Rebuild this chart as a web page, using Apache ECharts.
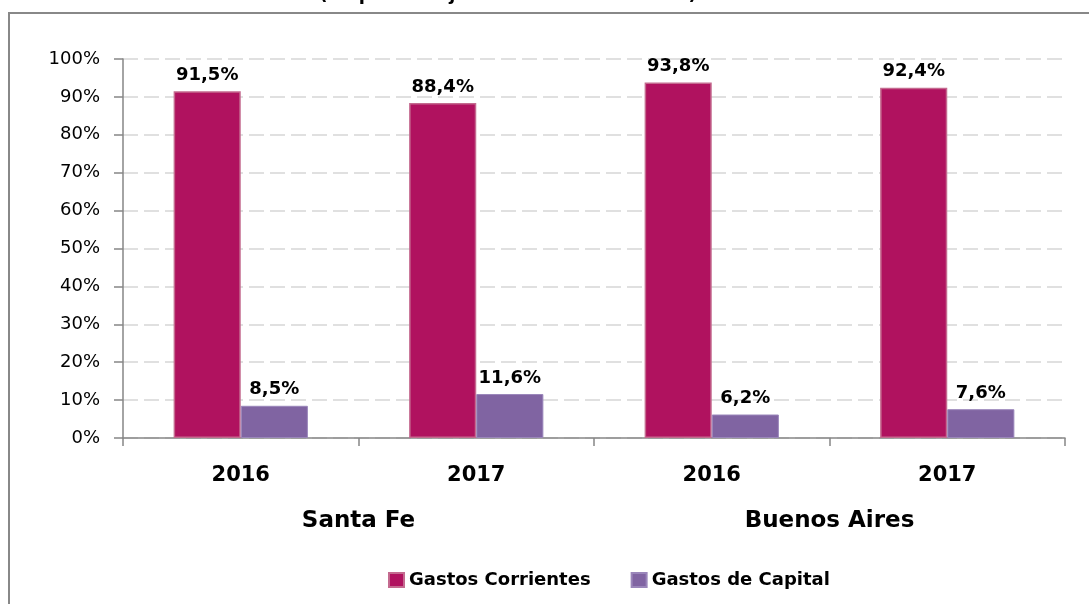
<!DOCTYPE html>
<html>
<head>
<meta charset="utf-8">
<script src="https://cdn.jsdelivr.net/npm/echarts@6/dist/echarts.min.js"></script>
<style>
html,body{margin:0;padding:0;background:#fff;}
#chart{width:1089px;height:604px;}
</style>
</head>
<body>
<div id="chart"></div>
<script>
var titleText = '(En porcentaje de los Gastos Totales)';
var years = ['2016', '2017', '2016', '2017'];
var provinces = ['Santa Fe', 'Buenos Aires'];
var seriesNames = ['Gastos Corrientes', 'Gastos de Capital'];
var corrientes = [91.5, 88.4, 93.8, 92.4];
var capital = [8.5, 11.6, 6.2, 7.6];
var yTicks = [0, 10, 20, 30, 40, 50, 60, 70, 80, 90, 100];

var FONT = 'DejaVu Sans';
var chart = echarts.init(document.getElementById('chart'));

function fmt(v) { return v.toFixed(1).replace('.', ',') + '%'; }

var labelStyle = {
  show: true, position: 'top', distance: 7,
  fontFamily: FONT, fontWeight: 'bold', fontSize: 18, color: '#000',
  formatter: function (p) { return fmt(p.value); }
};

chart.setOption({
  animation: false,
  backgroundColor: '#fff',
  graphic: [
    { type: 'rect', shape: { x: 9, y: 13, width: 1200, height: 700 },
      style: { fill: 'none', stroke: '#888', lineWidth: 2 }, z: -1 },
    { type: 'text', x: 508, y: 4,
      style: { text: titleText, fontFamily: FONT, fontWeight: 'bold', fontSize: 18,
               fill: '#000', textAlign: 'center', textVerticalAlign: 'bottom' } }
  ],
  legend: {
    data: seriesNames,
    left: 388, top: 571, padding: 0,
    itemWidth: 15, itemHeight: 14, itemGap: 40,
    icon: 'rect',
    textStyle: { fontFamily: FONT, fontWeight: 'bold', fontSize: 18, color: '#000' }
  },
  grid: { left: 123, right: 24, top: 59, bottom: 166, containLabel: false },
  xAxis: [
    {
      type: 'category', data: years, position: 'bottom',
      axisLine: { lineStyle: { color: '#868686', width: 1.5 } },
      axisTick: { show: true, length: 8, lineStyle: { color: '#868686', width: 1.5 } },
      axisLabel: { fontFamily: FONT, fontWeight: 'bold', fontSize: 21, color: '#000', margin: 27 }
    },
    {
      type: 'category', data: provinces, position: 'bottom', gridIndex: 0,
      axisLine: { show: false }, axisTick: { show: false },
      axisLabel: { fontFamily: FONT, fontWeight: 'bold', fontSize: 23, color: '#000', margin: 72 }
    }
  ],
  yAxis: {
    type: 'value', min: yTicks[0], max: yTicks[yTicks.length - 1], interval: 10,
    axisLine: { show: true, lineStyle: { color: '#868686', width: 1.5 } },
    axisTick: { show: true, length: 9, lineStyle: { color: '#868686', width: 1.5 } },
    axisLabel: { fontFamily: FONT, fontSize: 18, color: '#000', margin: 23,
                 formatter: '{value}%' },
    splitLine: { show: true, lineStyle: { color: '#e0e0e0', width: 2, type: [15, 6] } }
  },
  series: [
    {
      name: seriesNames[0], type: 'bar', data: corrientes, xAxisIndex: 0,
      barGap: '0%', barCategoryGap: '43%',
      itemStyle: { color: '#B0125F', borderColor: '#C46A8F', borderWidth: 1.5 },
      label: labelStyle
    },
    {
      name: seriesNames[1], type: 'bar', data: capital, xAxisIndex: 0,
      barGap: '0%', barCategoryGap: '43%',
      itemStyle: { color: '#8064A2', borderColor: '#9A86BA', borderWidth: 1 },
      label: labelStyle
    }
  ]
});
</script>
</body>
</html>
